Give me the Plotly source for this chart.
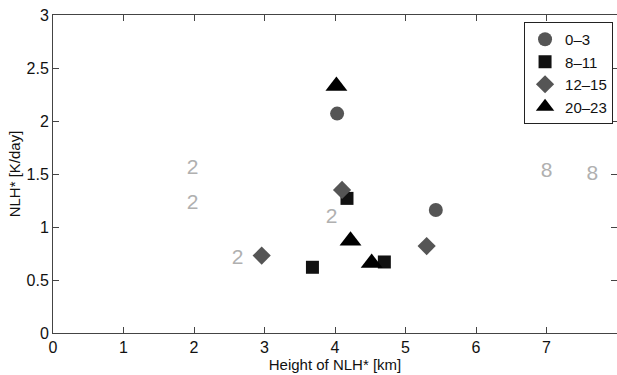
import plotly.graph_objects as go

# data
series_names = ["0\u20133", "8\u201311", "12\u201315", "20\u201323"]
x_0_3 = [4.03, 5.43]
y_0_3 = [2.07, 1.16]
x_8_11 = [4.17, 3.68, 4.70]
y_8_11 = [1.27, 0.62, 0.67]
x_12_15 = [4.10, 2.96, 5.30]
y_12_15 = [1.35, 0.73, 0.82]
x_20_23 = [4.02, 4.22, 4.52]
y_20_23 = [2.33, 0.87, 0.66]

label_text = ["2", "2", "2", "2", "8", "8"]
label_x = [1.98, 1.98, 3.95, 2.62, 7.0, 7.65]
label_y = [1.55, 1.22, 1.09, 0.70, 1.52, 1.49]

x_ticks = [0, 1, 2, 3, 4, 5, 6, 7, 8]
y_ticks = [0, 0.5, 1, 1.5, 2, 2.5, 3]

font = "Liberation Sans, Arial, sans-serif"

fig = go.Figure()
fig.add_trace(go.Scatter(x=x_0_3, y=y_0_3, mode="markers", name=series_names[0],
                         marker=dict(symbol="circle", size=14, color="#555555")))
fig.add_trace(go.Scatter(x=x_8_11, y=y_8_11, mode="markers", name=series_names[1],
                         marker=dict(symbol="square", size=13, color="#111111")))
fig.add_trace(go.Scatter(x=x_12_15, y=y_12_15, mode="markers", name=series_names[2],
                         marker=dict(symbol="diamond", size=14, color="#555555")))
fig.add_trace(go.Scatter(x=x_20_23, y=y_20_23, mode="markers", name=series_names[3],
                         marker=dict(symbol="triangle-up", size=19, color="#000000")))

fig.add_trace(go.Scatter(x=label_x, y=label_y, mode="text", text=label_text,
                         textfont=dict(family=font, size=21, color="#b0b0b0"),
                         showlegend=False, hoverinfo="skip"))

axis_common = dict(
    showgrid=False, zeroline=False, showline=True, linecolor="#444444", linewidth=1,
    mirror="ticks", ticks="inside", ticklen=6, tickcolor="#444444",
    tickfont=dict(family=font, size=16, color="#111111"),
)

fig.update_layout(
    width=617, height=375,
    margin=dict(l=53, r=0, t=15, b=42),
    paper_bgcolor="white", plot_bgcolor="white",
    xaxis=dict(range=[0, 8], tickvals=x_ticks, ticktext=[str(v) for v in x_ticks],
               title=dict(text="Height of NLH* [km]", font=dict(family=font, size=15, color="#111111"),
                          standoff=0),
               **axis_common),
    yaxis=dict(range=[0, 3], tickvals=y_ticks, ticktext=[f"{v:g}" for v in y_ticks],
               title=dict(text="NLH* [K/day]", font=dict(family=font, size=15, color="#111111"),
                          standoff=2),
               **axis_common),
    legend=dict(x=0.993, y=0.978, xanchor="right", yanchor="top",
                bordercolor="#222222", borderwidth=1, bgcolor="white",
                font=dict(family=font, size=15, color="#111111"),
                tracegroupgap=0, itemwidth=30),
    showlegend=True,
)

fig.write_html("out.html")
